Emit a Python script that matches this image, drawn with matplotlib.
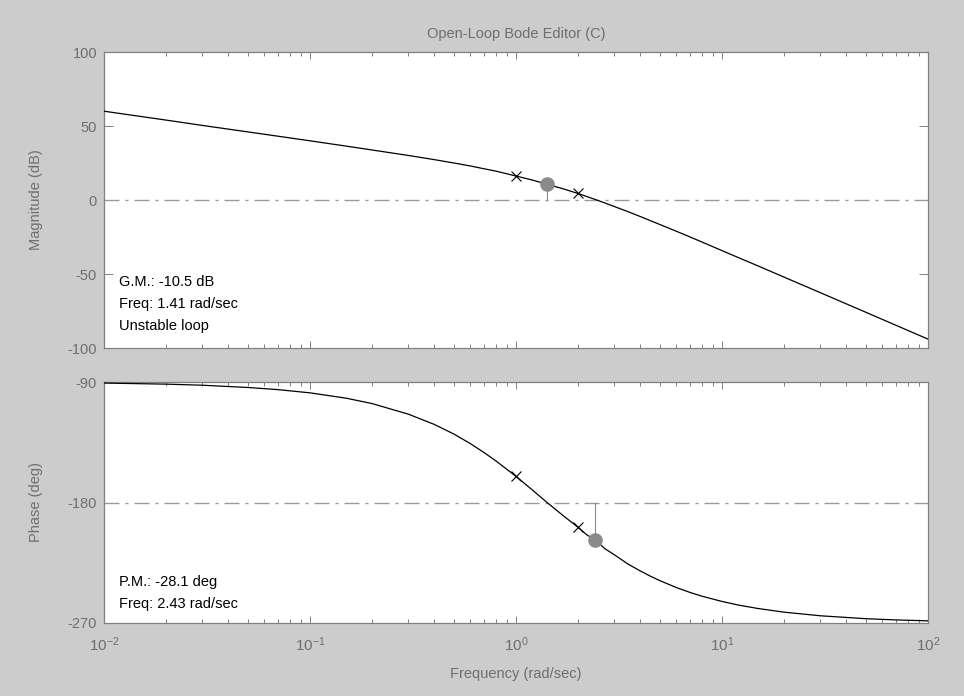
#open-loop bode editor plot
import numpy as np
import matplotlib.pyplot as plt
import matplotlib as mpl

mpl.rcParams['font.family'] = ['Liberation Sans', 'DejaVu Sans']
mpl.rcParams['mathtext.fontset'] = 'custom'
mpl.rcParams['mathtext.rm'] = 'Liberation Sans'
mpl.rcParams['mathtext.default'] = 'regular'
mpl.rcParams['axes.unicode_minus'] = False
mpl.rcParams['font.size'] = 10.5

# values
freq = [0.01, 0.02, 0.03, 0.05, 0.07, 0.1, 0.15, 0.2, 0.3, 0.4, 0.5, 0.6, 0.7,
        0.8, 1.0, 1.2, 1.41, 1.7, 2.0, 2.2, 2.43, 2.7, 3.0, 3.5, 4.0, 4.5, 5.0,
        6.0, 7.0, 8.0, 10.0, 12.0, 15.0, 20.0, 30.0, 50.0, 70.0, 100.0]
mag_db = [60.0, 54.0, 50.4, 46.0, 43.1, 40.0, 36.4, 33.8, 30.1, 27.3, 25.0, 23.0,
          21.1, 19.5, 16.2, 13.5, 10.7, 7.5, 4.4, 2.4, 0.3, -2.0, -4.4, -7.9,
          -11.1, -14.0, -16.6, -21.1, -25.0, -28.4, -34.2, -38.9, -44.6, -52.1,
          -62.6, -75.9, -84.7, -94.0]
phase_deg = [-90.8, -91.6, -92.4, -94.1, -95.7, -98.1, -102.1, -106.1, -114.0,
             -121.6, -128.9, -136.0, -142.7, -149.0, -160.5, -170.6, -179.8,
             -190.0, -198.5, -204.0, -208.1, -214.5, -219.0, -226.0, -231.0,
             -235.1, -238.4, -243.5, -247.2, -250.0, -253.9, -256.6, -259.2,
             -261.9, -264.6, -266.8, -267.7, -268.4]

pole_freq = [1.0, 2.0]
pole_mag = [16.2, 4.4]
pole_phase = [-160.5, -198.5]

gm_freq, gm_mag = 1.41, 10.5
pm_freq, pm_phase = 2.43, -208.1

bg = '#cccccc'
txt_gray = '#6e6e6e'
edge_gray = '#808080'
ref_gray = '#9a9a9a'
dot_gray = '#8a8a8a'

fig = plt.figure(figsize=(9.64, 6.96), dpi=100, facecolor=bg)
ax1 = fig.add_axes([104/964, 0.5, 824/964, 296/696])
ax2 = fig.add_axes([104/964, 1 - 623/696, 824/964, 241/696])

for ax in (ax1, ax2):
    ax.set_xscale('log')
    ax.set_xlim(1e-2, 1e2)
    ax.set_facecolor('white')
    for s in ax.spines.values():
        s.set_color(edge_gray)
        s.set_linewidth(0.9)
    ax.tick_params(which='both', direction='in', top=True, right=True,
                   colors=edge_gray, labelcolor=txt_gray, labelsize=10.5, width=0.7)
    ax.tick_params(axis='x', which='major', length=5, pad=9, labelsize=11)
    ax.tick_params(axis='x', which='minor', length=3)
    ax.tick_params(axis='y', which='major', length=6.5, pad=5)
    ax.tick_params(axis='y', which='minor', left=False, right=False)

# magnitude
ax1.plot(freq, mag_db, color='black', lw=0.9, zorder=3)
ref1, = ax1.plot([1e-2, 1e2], [0, 0], color=ref_gray, lw=1.0, zorder=2)
ref1.set_dashes((10.8, 4.3, 2.2, 4.3))
ax1.plot([gm_freq, gm_freq], [0, gm_mag], color=dot_gray, lw=0.8, zorder=2)
ax1.plot(gm_freq, gm_mag, 'o', color=dot_gray, ms=9.5, zorder=4)
ax1.plot(pole_freq, pole_mag, 'x', color='black', ms=6.5, mew=0.8, zorder=5)
ax1.set_ylim(-100, 100)
ax1.set_yticks([-100, -50, 0, 50, 100])
ax1.tick_params(axis='x', which='both', labelbottom=False)
ax1.set_ylabel('Magnitude (dB)', color=txt_gray)
ax1.set_title('Open-Loop Bode Editor (C)', color=txt_gray, fontsize=10.5, pad=10)
ax1.text(0.018, 0.247, 'G.M.: -10.5 dB\nFreq: 1.41 rad/sec\nUnstable loop',
         transform=ax1.transAxes, va='top', ha='left', color='black',
         fontsize=10.5, linespacing=1.75)

# phase
ax2.plot(freq, phase_deg, color='black', lw=0.9, zorder=3)
ref2, = ax2.plot([1e-2, 1e2], [-180, -180], color=ref_gray, lw=1.0, zorder=2)
ref2.set_dashes((10.8, 4.3, 2.2, 4.3))
ax2.plot([pm_freq, pm_freq], [-180, pm_phase], color=dot_gray, lw=0.8, zorder=2)
ax2.plot(pm_freq, pm_phase, 'o', color=dot_gray, ms=9.5, zorder=4)
ax2.plot(pole_freq, pole_phase, 'x', color='black', ms=6.5, mew=0.8, zorder=5)
ax2.set_ylim(-270, -90)
ax2.set_yticks([-270, -180, -90])
ax2.set_ylabel('Phase (deg)', color=txt_gray)
ax2.set_xlabel('Frequency (rad/sec)', color=txt_gray, labelpad=9)
ax2.text(0.018, 0.2, 'P.M.: -28.1 deg\nFreq: 2.43 rad/sec',
         transform=ax2.transAxes, va='top', ha='left', color='black',
         fontsize=10.5, linespacing=1.75)

ax1.yaxis.set_label_coords(-0.074, 0.5)
ax2.yaxis.set_label_coords(-0.074, 0.5)

fig.savefig('out.png', dpi=100, facecolor=bg)
